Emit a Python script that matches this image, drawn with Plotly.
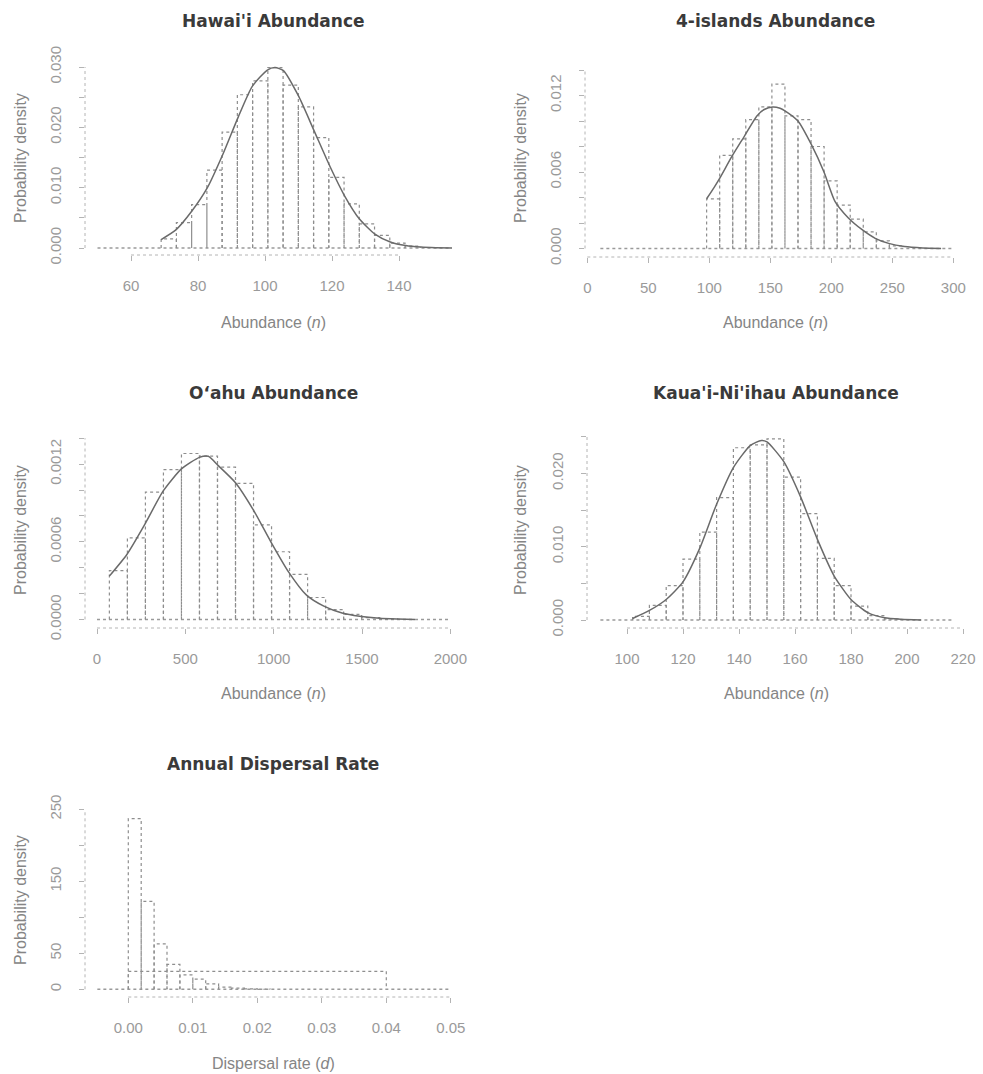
import plotly.graph_objects as go

# ---------------- data ----------------
# Hawai'i abundance
hawaii_edges = [69.0, 73.55, 78.1, 82.65, 87.2, 91.75, 96.3, 100.85, 105.4, 109.95,
                114.5, 119.05, 123.6, 128.15, 132.7, 137.25, 141.8, 146.35]
hawaii_density = [0.0015, 0.0042, 0.0072, 0.0129, 0.0192, 0.0254, 0.0277, 0.0299, 0.0270,
                  0.0234, 0.0183, 0.0117, 0.0073, 0.0040, 0.0021, 0.0008, 0.0003]
hawaii_curve_x = [69, 73.4, 78, 82.8, 87.4, 92, 96.2, 100.7, 103, 105.5, 110, 114.6,
                  119.4, 123.7, 128.2, 132.8, 137.4, 142, 146.6, 151, 155.8]
hawaii_curve_y = [0.0014, 0.0030, 0.0060, 0.0100, 0.0155, 0.0217, 0.0268, 0.0295, 0.0299,
                  0.0294, 0.0252, 0.0195, 0.0135, 0.0087, 0.0048, 0.0023, 0.0010, 0.0004,
                  0.00015, 0.00005, 0.0]
hawaii_baseline = [50.0, 155.8]

# 4-islands abundance
four_edges = [97.8, 108.5, 119.2, 129.9, 140.6, 151.3, 162.0, 172.7, 183.4, 194.1,
              204.8, 215.5, 226.2, 236.9, 247.6, 258.3]
four_density = [0.0039, 0.0073, 0.0086, 0.0101, 0.0111, 0.0129, 0.0104, 0.0101, 0.0080,
                0.0053, 0.0034, 0.0023, 0.0013, 0.0006, 0.0002]
four_curve_x = [97.8, 104, 108.5, 118.4, 128.7, 139, 145, 152, 158, 162, 172.7, 183.4,
                194, 203, 214, 225, 236, 247, 260, 275, 290]
four_curve_y = [0.0039, 0.0048, 0.0055, 0.0072, 0.0088, 0.0104, 0.0109, 0.0111, 0.0110,
                0.0108, 0.0100, 0.0082, 0.0060, 0.0037, 0.0024, 0.0015, 0.0008, 0.0004,
                0.00015, 0.00004, 0.0]
four_baseline = [10.7, 300.0]

# O'ahu abundance
oahu_edges = [70, 172, 274, 376, 478, 580, 682, 784, 886, 988, 1090, 1192, 1294, 1396,
              1498, 1600, 1702]
oahu_density = [0.000378, 0.000631, 0.000983, 0.001158, 0.001282, 0.001261, 0.001176,
                0.001051, 0.000731, 0.000523, 0.000348, 0.000170, 0.000077, 0.000040,
                0.000015, 0.000005]
oahu_curve_x = [70, 169, 273, 374, 478, 580, 630, 685, 784, 888, 984, 1084, 1186, 1284,
                1387, 1487, 1600, 1700, 1800]
oahu_curve_y = [0.000335, 0.000502, 0.000741, 0.000991, 0.001163, 0.001252, 0.001260,
                0.001190, 0.001056, 0.000839, 0.000600, 0.000368, 0.000188, 0.000103,
                0.000050, 0.000025, 0.000010, 0.000004, 0.0]
oahu_baseline = [0.0, 2000.0]

# Kaua'i-Ni'ihau abundance
kauai_edges = [102, 108, 114, 120, 126, 132, 138, 144, 150, 156, 162, 168, 174, 180,
               186, 192, 198]
kauai_density = [0.0005, 0.0020, 0.0047, 0.0083, 0.0120, 0.0167, 0.0235, 0.0239, 0.0247,
                 0.0195, 0.0145, 0.0084, 0.0047, 0.0019, 0.0006, 0.00014]
kauai_curve_x = [102, 108, 114, 120, 126, 132, 138, 144, 148, 150, 156, 162, 168, 174,
                 180, 186, 192, 198, 205]
kauai_curve_y = [0.0002, 0.0013, 0.0028, 0.0052, 0.0098, 0.0158, 0.0208, 0.0238, 0.0245,
                 0.0243, 0.0216, 0.0168, 0.0110, 0.0060, 0.0028, 0.0010, 0.0003, 0.0001, 0.0]
kauai_baseline = [90.5, 216.2]

# Annual dispersal rate
disp_edges = [0.000, 0.002, 0.004, 0.006, 0.008, 0.010, 0.012, 0.014, 0.016, 0.018,
              0.020, 0.022]
disp_density = [237, 122, 63, 34.5, 20, 14, 7.5, 3, 1.5, 0.5, 0.2]
disp_prior_range = [0.0, 0.04]
disp_prior_density = 25
disp_baseline = [-0.0048, 0.05]

# tick values / labels
hawaii_xticks = [60, 80, 100, 120, 140]
hawaii_yticks = [0.0, 0.005, 0.010, 0.015, 0.020, 0.025, 0.030]
hawaii_ylabels = ["0.000", "", "0.010", "", "0.020", "", "0.030"]
four_xticks = [0, 50, 100, 150, 200, 250, 300]
four_yticks = [0.0, 0.002, 0.004, 0.006, 0.008, 0.010, 0.012, 0.014]
four_ylabels = ["0.000", "", "", "0.006", "", "", "0.012", ""]
oahu_xticks = [0, 500, 1000, 1500, 2000]
oahu_yticks = [0.0, 0.0002, 0.0004, 0.0006, 0.0008, 0.0010, 0.0012, 0.0014]
oahu_ylabels = ["0.0000", "", "", "0.0006", "", "", "0.0012", ""]
kauai_xticks = [100, 120, 140, 160, 180, 200, 220]
kauai_yticks = [0.0, 0.005, 0.010, 0.015, 0.020, 0.025]
kauai_ylabels = ["0.000", "", "0.010", "", "0.020", ""]
disp_xticks = [0.00, 0.01, 0.02, 0.03, 0.04, 0.05]
disp_xlabels = ["0.00", "0.01", "0.02", "0.03", "0.04", "0.05"]
disp_yticks = [0, 50, 100, 150, 200, 250]
disp_ylabels = ["0", "50", "", "150", "", "250"]

titles = ["Hawai'i Abundance", "4-islands Abundance", "O\u2018ahu Abundance",
          "Kaua'i-Ni'ihau Abundance", "Annual Dispersal Rate"]

# ---------------- layout helpers ----------------
W, H = 983, 1074
BAR_COL = "#8e8e8e"
CURVE_COL = "#6a6a6a"
AXIS_COL = "#b4b4b4"
TICKFONT = dict(family="Liberation Sans, Arial, sans-serif", size=15, color="#9a9a9a")
LABFONT = dict(family="Liberation Sans, Arial, sans-serif", size=16, color="#858585")
TITFONT = dict(family="DejaVu Sans, Verdana, sans-serif", size=17, color="#3a3a3a")


def xdom(a, b):
    return [a / W, b / W]


def ydom(top, bottom):
    return [1 - bottom / H, 1 - top / H]


def xrange_(p0, p1, v, px, ppu):
    return [v + (p0 - px) / ppu, v + (p1 - px) / ppu]


def yrange_(top, bottom, v, px, ppu):
    return [v + (px - bottom) / ppu, v + (px - top) / ppu]


def hist_path(edges, dens):
    xs, ys = [], []
    for i, d in enumerate(dens):
        l, r = edges[i], edges[i + 1]
        xs += [l, l, r, r, None]
        ys += [0, d, d, 0, None]
    return xs, ys


fig = go.Figure()

panels = [
    dict(edges=hawaii_edges, dens=hawaii_density, cx=hawaii_curve_x, cy=hawaii_curve_y,
         base=hawaii_baseline, xt=hawaii_xticks, xl=[str(v) for v in hawaii_xticks],
         yt=hawaii_yticks, yl=hawaii_ylabels,
         xd=(85, 466), xr=(60, 131, 3.35), yd=(60, 255), yr=(0, 248, 6033),
         title_pos=(273, 21), xlab="Abundance (<i>n</i>)", xlab_pos=(273, 323),
         ylab_pos=(20, 158)),
    dict(edges=four_edges, dens=four_density, cx=four_curve_x, cy=four_curve_y,
         base=four_baseline, xt=four_xticks, xl=[str(v) for v in four_xticks],
         yt=four_yticks, yl=four_ylabels,
         xd=(585, 966), xr=(0, 587.3, 1.22), yd=(60, 257), yr=(0, 248.5, 12750),
         title_pos=(775, 21), xlab="Abundance (<i>n</i>)", xlab_pos=(775, 323),
         ylab_pos=(520, 158)),
    dict(edges=oahu_edges, dens=oahu_density, cx=oahu_curve_x, cy=oahu_curve_y,
         base=oahu_baseline, xt=oahu_xticks, xl=[str(v) for v in oahu_xticks],
         yt=oahu_yticks, yl=oahu_ylabels,
         xd=(85, 466), xr=(0, 97, 0.17667), yd=(430, 628), yr=(0, 619.5, 129500),
         title_pos=(273, 393), xlab="Abundance (<i>n</i>)", xlab_pos=(273, 693),
         ylab_pos=(20, 530)),
    dict(edges=kauai_edges, dens=kauai_density, cx=kauai_curve_x, cy=kauai_curve_y,
         base=kauai_baseline, xt=kauai_xticks, xl=[str(v) for v in kauai_xticks],
         yt=kauai_yticks, yl=kauai_ylabels,
         xd=(587, 975), xr=(100, 627, 2.8), yd=(430, 628), yr=(0, 620, 7330),
         title_pos=(776, 393), xlab="Abundance (<i>n</i>)", xlab_pos=(776, 693),
         ylab_pos=(520, 530)),
    dict(edges=disp_edges, dens=disp_density, cx=None, cy=None,
         base=disp_baseline, xt=disp_xticks, xl=disp_xlabels,
         yt=disp_yticks, yl=disp_ylabels,
         xd=(85, 466), xr=(0, 128.3, 6450), yd=(800, 997), yr=(0, 989.3, 0.72),
         title_pos=(273, 764), xlab="Dispersal rate (<i>d</i>)", xlab_pos=(273, 1063),
         ylab_pos=(20, 900)),
]

annotations = []
shapes = []
for k, p in enumerate(panels):
    n = k + 1
    xa = "x" if n == 1 else f"x{n}"
    ya = "y" if n == 1 else f"y{n}"
    # baseline
    fig.add_trace(go.Scatter(x=p["base"], y=[0, 0], mode="lines", xaxis=xa, yaxis=ya,
                             line=dict(color="#9a9a9a", width=1.4, dash="dot"),
                             showlegend=False, hoverinfo="skip"))
    # histogram bars (outlined)
    hx, hy = hist_path(p["edges"], p["dens"])
    fig.add_trace(go.Scatter(x=hx, y=hy, mode="lines", xaxis=xa, yaxis=ya,
                             line=dict(color=BAR_COL, width=1.2, dash="dot"),
                             showlegend=False, hoverinfo="skip"))
    if p["cx"] is not None:
        fig.add_trace(go.Scatter(x=p["cx"], y=p["cy"], mode="lines", xaxis=xa, yaxis=ya,
                                 line=dict(color=CURVE_COL, width=1.5, shape="spline",
                                           smoothing=0.6),
                                 showlegend=False, hoverinfo="skip"))
    else:
        # uniform prior box for dispersal rate
        lo, hi = disp_prior_range
        fig.add_trace(go.Scatter(x=[lo, lo, hi, hi],
                                 y=[0, disp_prior_density, disp_prior_density, 0],
                                 mode="lines", xaxis=xa, yaxis=ya,
                                 line=dict(color=BAR_COL, width=1.2, dash="dot"),
                                 showlegend=False, hoverinfo="skip"))

    xr = xrange_(p["xd"][0], p["xd"][1], *p["xr"])
    yr = yrange_(p["yd"][0], p["yd"][1], *p["yr"])
    xkey = "xaxis" if n == 1 else f"xaxis{n}"
    ykey = "yaxis" if n == 1 else f"yaxis{n}"
    fig.layout[xkey] = dict(domain=xdom(*p["xd"]), range=xr, anchor=ya,
                            showgrid=False, zeroline=False, showline=False,
                            automargin=False,
                            ticks="outside", ticklen=5, tickcolor=AXIS_COL, tickwidth=1,
                            tickvals=p["xt"], ticktext=p["xl"], tickfont=TICKFONT,
                            ticklabelstandoff=12)
    fig.layout[ykey] = dict(domain=ydom(*p["yd"]), range=yr, anchor=xa,
                            showgrid=False, zeroline=False, showline=False,
                            automargin=False,
                            ticks="outside", ticklen=5, tickcolor=AXIS_COL, tickwidth=1,
                            tickvals=p["yt"], ticktext=p["yl"], tickfont=TICKFONT,
                            tickangle=-90, ticklabelstandoff=12)
    # axis lines spanning first to last tick (R style)
    shapes.append(dict(type="line", xref=xa, yref=f"{ya} domain",
                       x0=p["xt"][0], x1=p["xt"][-1], y0=0, y1=0,
                       line=dict(color=AXIS_COL, width=1, dash="dot")))
    shapes.append(dict(type="line", xref=f"{xa} domain", yref=ya,
                       x0=0, x1=0, y0=p["yt"][0], y1=p["yt"][-1],
                       line=dict(color=AXIS_COL, width=1, dash="dot")))
    # titles and axis labels
    tx, ty = p["title_pos"]
    annotations.append(dict(text=f"<b>{titles[k]}</b>", x=tx / W, y=1 - ty / H,
                            xref="paper", yref="paper", showarrow=False,
                            xanchor="center", yanchor="middle", font=TITFONT))
    lx, ly = p["xlab_pos"]
    annotations.append(dict(text=p["xlab"], x=lx / W, y=1 - ly / H, xref="paper",
                            yref="paper", showarrow=False, xanchor="center",
                            yanchor="middle", font=LABFONT))
    vx, vy = p["ylab_pos"]
    annotations.append(dict(text="Probability density", x=vx / W, y=1 - vy / H,
                            xref="paper", yref="paper", showarrow=False, textangle=-90,
                            xanchor="center", yanchor="middle", font=LABFONT))

fig.update_layout(width=W, height=H, margin=dict(l=0, r=0, t=0, b=0, pad=0),
                  autosize=False,
                  paper_bgcolor="white", plot_bgcolor="white",
                  annotations=annotations, shapes=shapes, showlegend=False)

fig.write_html("out.html",
               config={"responsive": False, "displayModeBar": False},
               post_script="document.body.style.margin='0';"
                           "document.body.style.overflow='hidden';")
